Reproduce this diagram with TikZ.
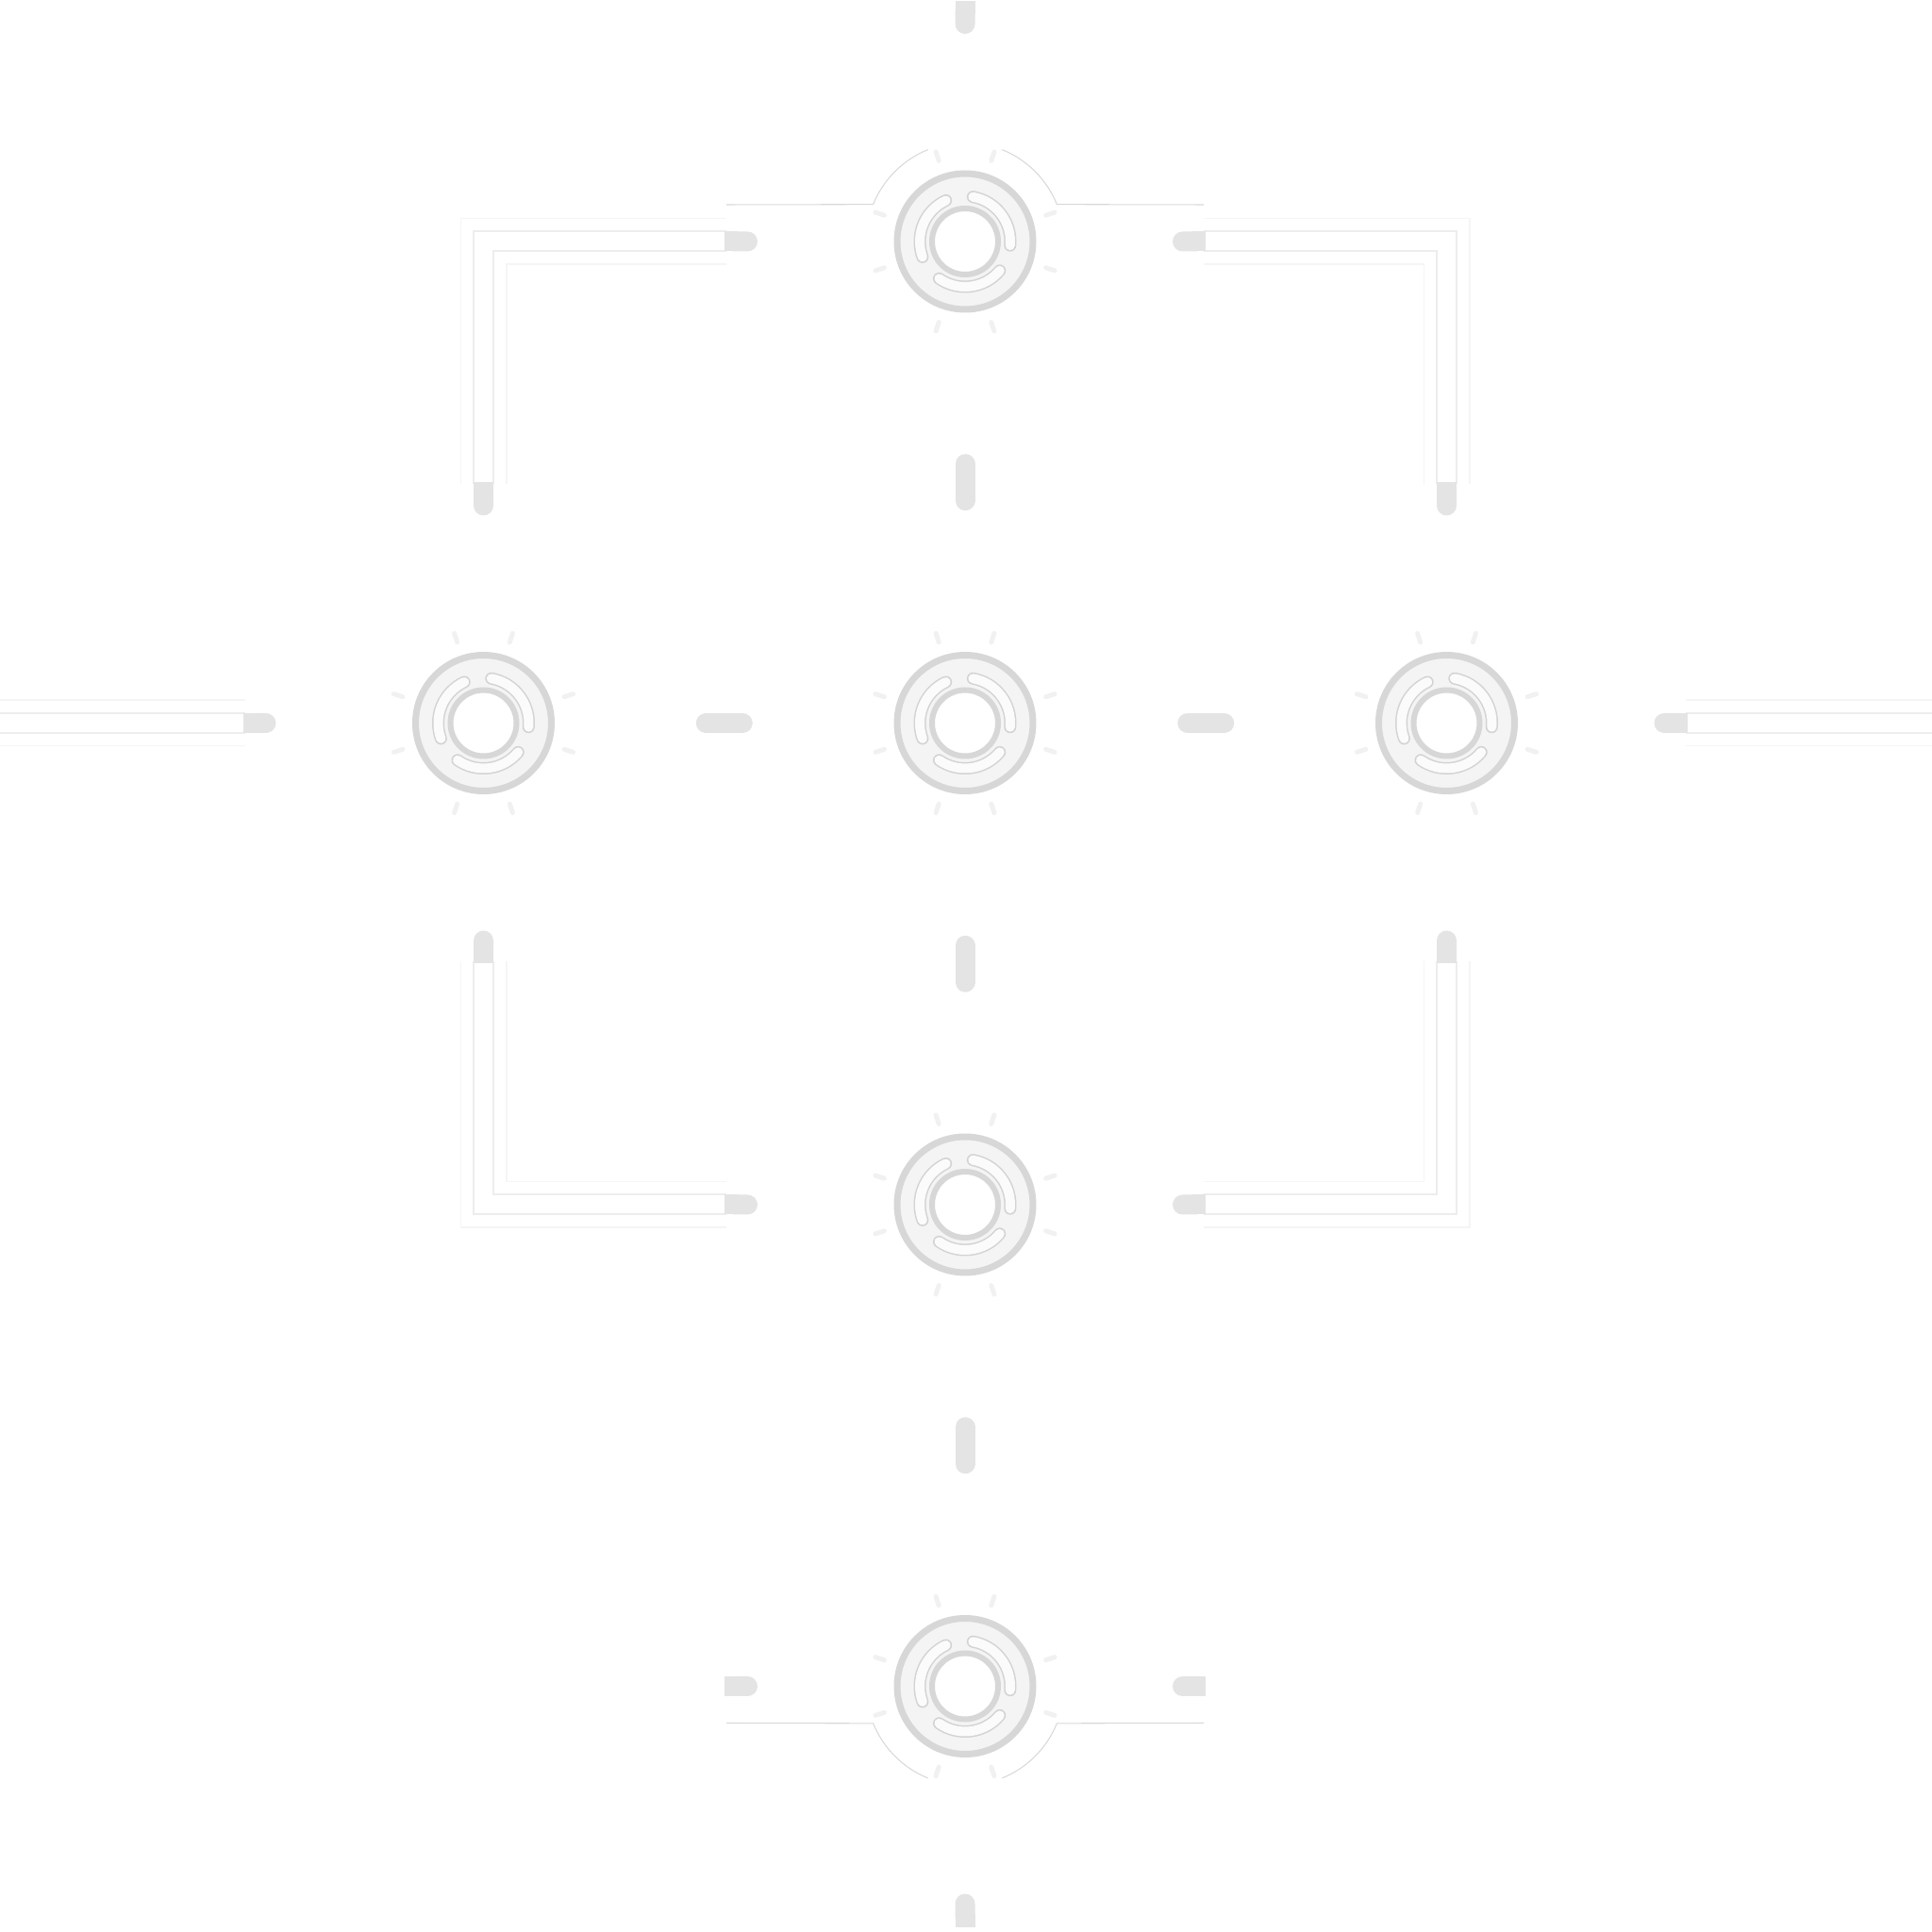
\documentclass[tikz,border=0pt]{standalone}
\usepackage{tikz}
\usetikzlibrary{arrows.meta,positioning,calc}
\definecolor{rimgray}  {HTML}{D7D7D7}
\definecolor{facegray} {HTML}{F4F4F4}
\definecolor{slotgray} {HTML}{D3D3D3}
\definecolor{slotface} {HTML}{FBFBFB}
\definecolor{pillgray} {HTML}{E4E4E4}
\definecolor{pipeedge} {HTML}{EDEDED}
\definecolor{pipehalo} {HTML}{F5F5F5}
\definecolor{hairgray} {HTML}{D8D8D8}
\definecolor{tickgray} {HTML}{F1F1F1}

\tikzset{
  ring/.style={circle, draw=rimgray, fill=facegray, line width=0.07cm,
    minimum size=1.44cm, inner sep=0pt,
    path picture={
      \coordinate (c) at (path picture bounding box.center);
      \foreach \a in {-5,115,235}
        {\draw[slotgray, line width=0.13cm, line cap=round]
           ($(c)+(\a:0.48)$) arc[start angle=\a, delta angle=85, radius=0.48];
         \draw[slotface, line width=0.1cm, line cap=round]
           ($(c)+(\a:0.48)$) arc[start angle=\a, delta angle=85, radius=0.48];}
      \draw[rimgray, fill=white, line width=0.06cm] (c) circle (0.35);
    }},
  pill/.style={draw=pillgray, line width=0.21cm, line cap=round},
  halfpill/.style={draw=pillgray, line width=0.21cm, line cap=butt, -{Round Cap[]}},
  pipe/.style={draw=pipeedge, line width=0.02cm, double=white,
    double distance=0.19cm, line join=miter,
    preaction={draw=pipehalo, line width=0.5cm, line join=miter},
    preaction={draw=white, line width=0.47cm, line join=miter}},
  hair/.style={draw=hairgray, line width=0.3pt},
  tick/.style={draw=tickgray, line width=0.05cm, line cap=round},
}

\begin{document}
\begin{tikzpicture}
  \useasboundingbox (0,0) rectangle (20.48,20.48);

  % free ends at the page border
  \coordinate (west) at (0,12.815);
  \coordinate (east) at (20.48,12.815);

  % pipes
  \path (10.23,17.92) coordinate (ptop) (5.125,12.815) coordinate (pleft)
        (15.335,12.815) coordinate (pright) (10.23,7.71) coordinate (plow);
  \draw[pipe] ($(ptop)+(-2.53,0)$) -| ($(pleft)+(0,2.53)$);
  \draw[pipe] ($(ptop)+(2.53,0)$) -| ($(pright)+(0,2.53)$);
  \draw[pipe] ($(pleft)+(0,-2.53)$) |- ($(plow)+(-2.53,0)$);
  \draw[pipe] ($(pright)+(0,-2.53)$) |- ($(plow)+(2.53,0)$);
  \draw[pipe] (west) -- ($(pleft)+(-2.53,0)$);
  \draw[pipe] ($(pright)+(2.53,0)$) -- (east);

  % nodes
  \foreach \n/\x/\y in {top/10.23/17.92, left/5.125/12.815, mid/10.23/12.815,
                        right/15.335/12.815, low/10.23/7.71, bot/10.23/2.605}
    {\foreach \a in {18,72,108,162,198,252,288,342}
       {\draw[tick] ($(\x,\y)+(\a:0.9)$) -- ($(\x,\y)+(\a:1.0)$);}
     \node[ring] (\n) at (\x,\y) {};}

  % pills between nodes
  \draw[pill] ($(top)!0.5!(mid)+(0,0.195)$) -- ($(top)!0.5!(mid)+(0,-0.195)$);
  \draw[pill] ($(mid)!0.5!(low)+(0,0.195)$) -- ($(mid)!0.5!(low)+(0,-0.195)$);
  \draw[pill] ($(low)!0.5!(bot)+(0,0.195)$) -- ($(low)!0.5!(bot)+(0,-0.195)$);
  \draw[pill] ($(left)!0.5!(mid)+(-0.195,0)$) -- ($(left)!0.5!(mid)+(0.195,0)$);
  \draw[pill] ($(mid)!0.5!(right)+(-0.195,0)$) -- ($(mid)!0.5!(right)+(0.195,0)$);

  % half pills
  \foreach \n/\dx/\dy in {top/-1/0, top/1/0, top/0/1, left/0/1, left/0/-1,
                          left/-1/0, right/0/1, right/0/-1, right/1/0,
                          low/-1/0, low/1/0, bot/-1/0, bot/1/0, bot/0/-1}
    {\draw[halfpill] ($(\n)+(2.55*\dx,2.55*\dy)$) -- ($(\n)+(2.2*\dx,2.2*\dy)$);}

  % hairlines round the top and bottom node
  \draw[hair] ($(top)+(-2.53,0.39)$) -- ($(top)+(158:1.05)$)
              arc[start angle=158, end angle=112, radius=1.05];
  \draw[hair] ($(top)+(2.53,0.39)$) -- ($(top)+(22:1.05)$)
              arc[start angle=22, end angle=68, radius=1.05];
  \draw[hair] ($(bot)+(-2.53,-0.39)$) -- ($(bot)+(202:1.05)$)
              arc[start angle=202, end angle=248, radius=1.05];
  \draw[hair] ($(bot)+(2.53,-0.39)$) -- ($(bot)+(338:1.05)$)
              arc[start angle=338, end angle=292, radius=1.05];
\end{tikzpicture}
\end{document}
